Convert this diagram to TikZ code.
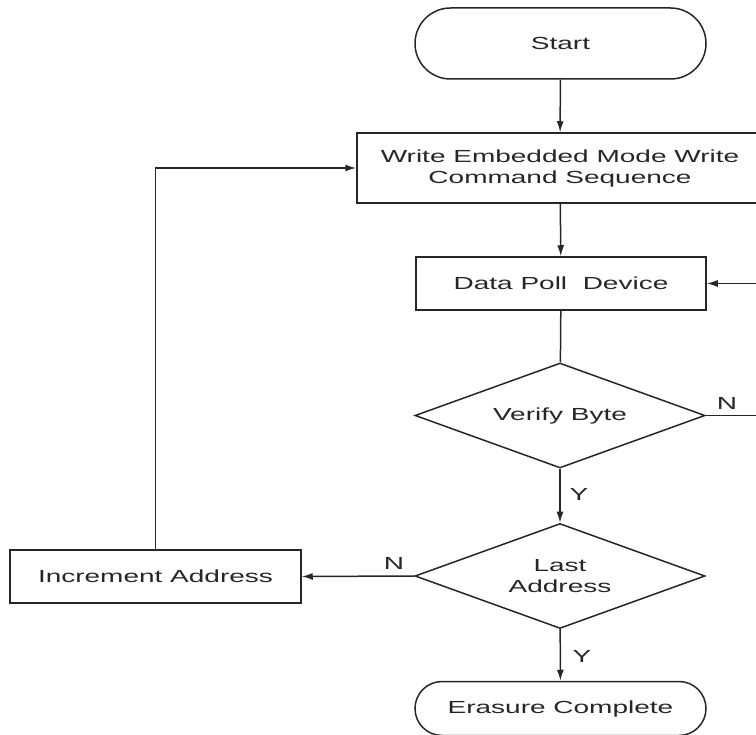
\documentclass[tikz,border=0pt]{standalone}
\usepackage{fontspec}
\setmainfont{Liberation Sans}[FakeStretch=1.6]
\usetikzlibrary{shapes.misc,shapes.geometric,arrows.meta}
\begin{document}
\begin{tikzpicture}[x=1pt,y=-1pt,
  every node/.style={font=\fontsize{17.5}{21}\selectfont, text=black!85},
  line/.style={draw=black!85, line width=1.5pt},
  arr/.style={line, -{Latex[length=11pt,width=7pt]}},
  term/.style={rounded rectangle, draw=black!85, line width=1.5pt, minimum width=291pt, inner sep=0pt},
  box/.style={rectangle, draw=black!85, line width=1.5pt, inner sep=0pt, align=center},
  dec/.style={diamond, draw=black!85, line width=1.5pt, inner sep=0pt, minimum width=290pt, minimum height=105pt},
  lbl/.style={inner sep=0pt}]
\useasboundingbox (0,0) rectangle (756,735);
\clip (0,0) rectangle (756,735);
\node[term, minimum height=71pt] (start) at (560.5,43.5) {Start};
\node[box, minimum width=406pt, minimum height=70pt] (write) at (560,168) {Write Embedded Mode Write\\Command Sequence};
\node[box, minimum width=290pt, minimum height=53pt] (poll) at (561,283.5) {Data Poll\ \ Device};
\node[dec, label={center:Verify Byte}] (verify) at (560,415.5) {};
\node[dec, label={[align=center]center:Last\\Address}] (last) at (560,576) {};
\node[box, minimum width=291pt, minimum height=53pt] (inc) at (155.5,576.5) {Increment Address};
\node[term, minimum height=54pt] (erase) at (560.5,708.5) {Erasure Complete};
\coordinate (rb) at (800,415.5);
\coordinate (rt) at (800,283.5);
\coordinate (lt) at (155.5,168);
\draw[arr] (start) -- (write);
\draw[arr] (write) -- (poll);
\draw[line] (poll) -- (verify);
\draw[arr] (verify.east) -- (rb) -- (rt) -- (poll.east);
\draw[arr] (verify) -- (last);
\draw[arr] (last.west) -- (inc.east);
\draw[arr] (inc.north) -- (lt) -- (write.west);
\draw[arr] (last) -- (erase);
\node[lbl] (n1) at (727,403) {N};
\node[lbl] (n2) at (394,563) {N};
\node[lbl] (y1) at (579,494) {Y};
\node[lbl] (y2) at (582,656) {Y};
\end{tikzpicture}
\end{document}
